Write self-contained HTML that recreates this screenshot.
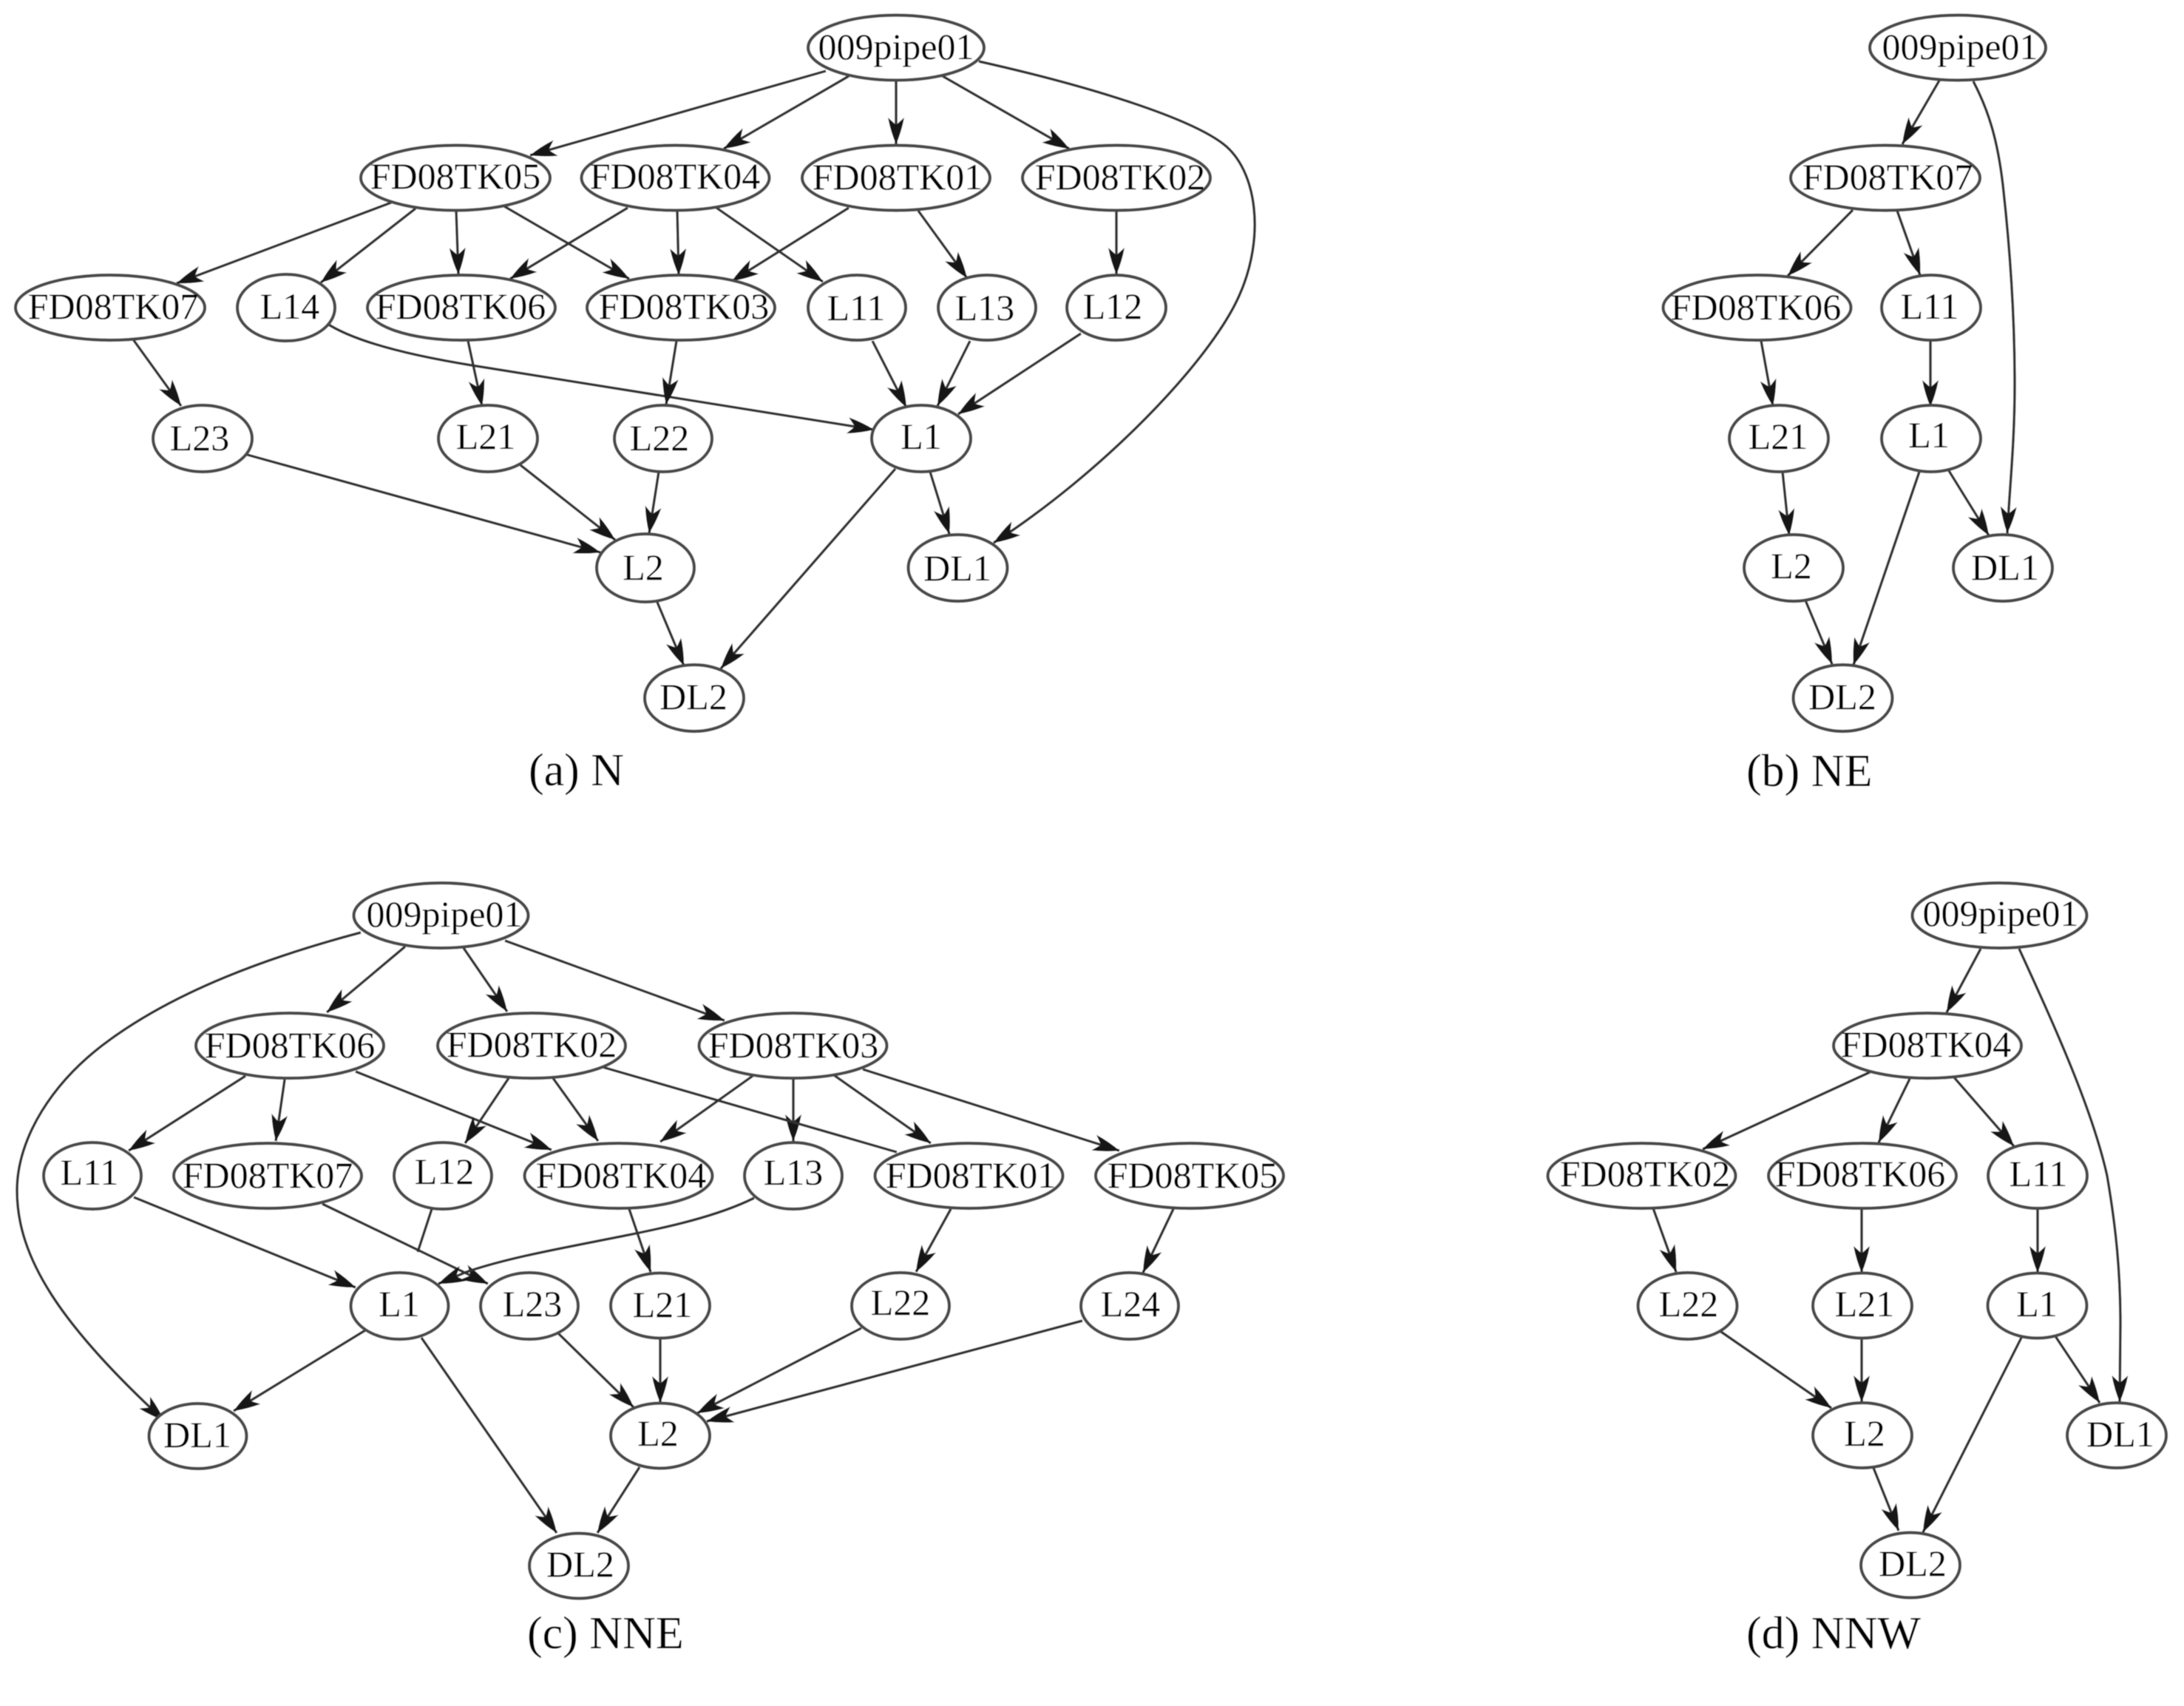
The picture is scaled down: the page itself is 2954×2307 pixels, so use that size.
<!DOCTYPE html>
<html><head><meta charset="utf-8"><title>Diagram</title>
<style>
html,body{margin:0;padding:0;background:#fff}
svg{display:block}
.e path{fill:none;stroke:#333;stroke-width:3.5;marker-end:url(#a)}
.n path{fill:none;stroke:#333;stroke-width:3.5}
ellipse{fill:#fff;stroke:#4a4a4a;stroke-width:4.2}
text{font-family:"Liberation Serif",serif;fill:#000;font-size:50px;text-anchor:middle}
text.c{font-size:62px;text-anchor:start}
</style></head><body>
<svg width="2954" height="2307" viewBox="0 0 2954 2307" xmlns="http://www.w3.org/2000/svg">
<defs>
<marker id="a" markerUnits="userSpaceOnUse" markerWidth="38" markerHeight="22" refX="36" refY="11" orient="auto"><path d="M0 0 Q20 4 36 11 Q20 18 0 22 L10 11 Z" fill="#171717"/></marker>
<filter id="s" x="0" y="0" width="100%" height="100%"><feGaussianBlur stdDeviation="0.4"/></filter>
</defs>
<g filter="url(#s)">
<rect width="2954" height="2307" fill="#fff"/>
<!-- (a) edges -->
<g class="e">
<path d="M1117 96L717 210"/>
<path d="M1148 103L979 201"/>
<path d="M1212 110L1212 195"/>
<path d="M1275 103L1446 201"/>
<path d="M1324 83C1480 118 1610 160 1655 195C1700 230 1712 320 1676 400C1636 490 1490 640 1344 734"/>
<path d="M529 274L239 383"/>
<path d="M562 282L434 382"/>
<path d="M617 285L620 371"/>
<path d="M682 279L851 377"/>
<path d="M849 281L690 377"/>
<path d="M916 285L918 372"/>
<path d="M969 281L1113 381"/>
<path d="M1148 281L990 380"/>
<path d="M1242 285L1308 376"/>
<path d="M1510 285L1510 371"/>
<path d="M180 459L245 549"/>
<path d="M440 436Q490 470 638 494L1182 581"/>
<path d="M633 461L652 549"/>
<path d="M915 461L901 547"/>
<path d="M1180 461L1226 551"/>
<path d="M1312 461L1268 549"/>
<path d="M1462 451L1296 560"/>
<path d="M331 614L812 747"/>
<path d="M704 629L832 730"/>
<path d="M891 638L878 721"/>
<path d="M1211 634L975 904"/>
<path d="M1258 638L1284 722"/>
<path d="M888 812L925 900"/>
</g>
<!-- (b) edges -->
<g class="e">
<path d="M2623 109L2573 195"/>
<path d="M2669 110C2690 150 2702 190 2709 250C2718 330 2725 420 2725 520C2725 600 2718 660 2715 721"/>
<path d="M2506 284L2418 373"/>
<path d="M2566 285L2597 372"/>
<path d="M2382 461L2398 549"/>
<path d="M2611 461L2611 550"/>
<path d="M2411 638L2420 724"/>
<path d="M2596 638L2507 899"/>
<path d="M2635 635L2690 724"/>
<path d="M2442 812L2478 898"/>
</g>
<!-- (c) edges -->
<g class="e">
<path d="M488 1261C360 1295 240 1340 150 1405C70 1462 23 1540 23 1610C23 1700 80 1790 222 1921"/>
<path d="M548 1280L442 1369"/>
<path d="M627 1282L686 1368"/>
<path d="M683 1272L980 1380"/>
<path d="M332 1455L174 1556"/>
<path d="M385 1460L373 1543"/>
<path d="M481 1449L746 1555"/>
<path d="M688 1458L629 1546"/>
<path d="M748 1458L809 1543"/>
<path d="M1018 1455L893 1544"/>
<path d="M1073 1458L1073 1543"/>
<path d="M1128 1454L1259 1546"/>
<path d="M1167 1446L1514 1556"/>
<path d="M181 1619L481 1741"/>
<path d="M436 1628L660 1736"/>
<path d="M1020 1620C970 1645 900 1660 850 1670C760 1688 690 1700 631 1720L593 1736"/>
<path d="M851 1635L880 1720"/>
<path d="M1286 1635L1239 1720"/>
<path d="M1587 1635L1546 1721"/>
<path d="M494 1799L316 1908"/>
<path d="M570 1809L753 2073"/>
<path d="M754 1802L857 1903"/>
<path d="M893 1809L893 1897"/>
<path d="M1165 1796L943 1911"/>
<path d="M1464 1786L956 1922"/>
<path d="M865 1984L808 2073"/>
</g>
<g class="n">
<path d="M815 1443L1213 1558"/>
<path d="M584 1635L565 1693"/>
</g>
<!-- (d) edges -->
<g class="e">
<path d="M2679 1283L2633 1369"/>
<path d="M2731 1283C2780 1390 2830 1500 2850 1590C2862 1660 2868 1720 2868 1790L2867 1896"/>
<path d="M2529 1450L2303 1554"/>
<path d="M2583 1459L2541 1545"/>
<path d="M2643 1457L2724 1550"/>
<path d="M2236 1634L2267 1720"/>
<path d="M2518 1635L2518 1721"/>
<path d="M2756 1635L2756 1721"/>
<path d="M2325 1799L2477 1904"/>
<path d="M2518 1810L2518 1896"/>
<path d="M2734 1809L2601 2072"/>
<path d="M2780 1807L2840 1897"/>
<path d="M2534 1985L2568 2070"/>
</g>

<!-- (a) nodes -->
<ellipse cx="1212" cy="64.5" rx="119" ry="44"/><text x="1212" y="80">009pipe01</text>
<ellipse cx="616" cy="240.5" rx="128" ry="44"/><text x="616" y="255">FD08TK05</text>
<ellipse cx="913.5" cy="240.5" rx="127" ry="44"/><text x="913" y="255">FD08TK04</text>
<ellipse cx="1212" cy="240.5" rx="127" ry="44"/><text x="1214" y="256">FD08TK01</text>
<ellipse cx="1510" cy="240.5" rx="127" ry="44"/><text x="1515" y="256">FD08TK02</text>
<ellipse cx="149" cy="416" rx="128" ry="44"/><text x="153" y="431">FD08TK07</text>
<ellipse cx="387" cy="416" rx="66" ry="45"/><text x="392" y="431">L14</text>
<ellipse cx="624" cy="416" rx="127" ry="44"/><text x="623" y="431">FD08TK06</text>
<ellipse cx="921" cy="416" rx="127" ry="44"/><text x="925" y="431">FD08TK03</text>
<ellipse cx="1159" cy="416" rx="66" ry="44"/><text x="1158" y="433">L11</text>
<ellipse cx="1335" cy="416" rx="66" ry="44"/><text x="1332" y="433">L13</text>
<ellipse cx="1510" cy="416" rx="67" ry="44"/><text x="1505" y="431">L12</text>
<ellipse cx="274" cy="593" rx="67" ry="45"/><text x="270" y="609">L23</text>
<ellipse cx="660" cy="593" rx="67" ry="45"/><text x="657" y="607">L21</text>
<ellipse cx="897" cy="593" rx="66" ry="45"/><text x="892" y="609">L22</text>
<ellipse cx="1246" cy="593" rx="67" ry="45"/><text x="1246" y="607">L1</text>
<ellipse cx="873" cy="768" rx="66" ry="46"/><text x="870" y="784">L2</text>
<ellipse cx="1295.5" cy="768" rx="67" ry="45"/><text x="1295" y="785">DL1</text>
<ellipse cx="939" cy="944" rx="67" ry="45"/><text x="938" y="959">DL2</text>
<text class="c" x="715" y="1062">(a) N</text>

<!-- (b) nodes -->
<ellipse cx="2648" cy="64.5" rx="119" ry="44"/><text x="2651" y="80">009pipe01</text>
<ellipse cx="2550" cy="240.5" rx="128" ry="44"/><text x="2553" y="256">FD08TK07</text>
<ellipse cx="2376.5" cy="416" rx="127" ry="44"/><text x="2375" y="432">FD08TK06</text>
<ellipse cx="2612" cy="416" rx="67" ry="44"/><text x="2610" y="431">L11</text>
<ellipse cx="2406" cy="593" rx="67" ry="45"/><text x="2405" y="607">L21</text>
<ellipse cx="2612" cy="593" rx="67" ry="45"/><text x="2609" y="605">L1</text>
<ellipse cx="2426" cy="768" rx="67" ry="45"/><text x="2423" y="782">L2</text>
<ellipse cx="2709" cy="768" rx="67" ry="45"/><text x="2712" y="784">DL1</text>
<ellipse cx="2492.5" cy="944" rx="67" ry="45"/><text x="2492" y="959">DL2</text>
<text class="c" x="2362" y="1063">(b) NE</text>

<!-- (c) nodes -->
<ellipse cx="596.5" cy="1238" rx="118" ry="44"/><text x="601" y="1253">009pipe01</text>
<ellipse cx="392" cy="1414" rx="127" ry="44"/><text x="392" y="1430">FD08TK06</text>
<ellipse cx="719" cy="1414" rx="127" ry="44"/><text x="719" y="1429">FD08TK02</text>
<ellipse cx="1072.5" cy="1414" rx="127" ry="44"/><text x="1073" y="1430">FD08TK03</text>
<ellipse cx="125" cy="1590" rx="66" ry="45"/><text x="121" y="1602">L11</text>
<ellipse cx="362" cy="1590" rx="127" ry="44"/><text x="362" y="1606">FD08TK07</text>
<ellipse cx="599" cy="1590" rx="66" ry="45"/><text x="601" y="1601">L12</text>
<ellipse cx="836.5" cy="1590" rx="127" ry="44"/><text x="840" y="1606">FD08TK04</text>
<ellipse cx="1073" cy="1590" rx="66" ry="45"/><text x="1073" y="1602">L13</text>
<ellipse cx="1310.5" cy="1590" rx="127" ry="44"/><text x="1313" y="1606">FD08TK01</text>
<ellipse cx="1609" cy="1590" rx="127" ry="44"/><text x="1613" y="1606">FD08TK05</text>
<ellipse cx="540.5" cy="1766" rx="66" ry="45"/><text x="540" y="1780">L1</text>
<ellipse cx="716" cy="1766" rx="66" ry="45"/><text x="720" y="1780">L23</text>
<ellipse cx="893" cy="1765.5" rx="67" ry="44"/><text x="896" y="1781">L21</text>
<ellipse cx="1218" cy="1766" rx="66" ry="45"/><text x="1218" y="1778">L22</text>
<ellipse cx="1528" cy="1766" rx="66" ry="45"/><text x="1529" y="1780">L24</text>
<ellipse cx="893" cy="1941.5" rx="67" ry="44"/><text x="890" y="1955">L2</text>
<ellipse cx="267.5" cy="1942" rx="66" ry="44"/><text x="267" y="1957">DL1</text>
<ellipse cx="783" cy="2117.5" rx="67" ry="44"/><text x="785" y="2132">DL2</text>
<text class="c" x="713" y="2229">(c) NNE</text>

<!-- (d) nodes -->
<ellipse cx="2704.5" cy="1238" rx="118" ry="44"/><text x="2706" y="1252">009pipe01</text>
<ellipse cx="2607" cy="1414" rx="127" ry="44"/><text x="2605" y="1429">FD08TK04</text>
<ellipse cx="2220.5" cy="1590" rx="127" ry="44"/><text x="2225" y="1604">FD08TK02</text>
<ellipse cx="2519" cy="1590" rx="127" ry="44"/><text x="2516" y="1604">FD08TK06</text>
<ellipse cx="2756" cy="1590" rx="67" ry="44"/><text x="2757" y="1604">L11</text>
<ellipse cx="2282.5" cy="1766" rx="67" ry="45"/><text x="2284" y="1780">L22</text>
<ellipse cx="2519" cy="1765.5" rx="67" ry="44"/><text x="2522" y="1780">L21</text>
<ellipse cx="2755.5" cy="1765.5" rx="67" ry="44"/><text x="2755" y="1780">L1</text>
<ellipse cx="2519" cy="1941" rx="67" ry="44"/><text x="2522" y="1955">L2</text>
<ellipse cx="2863" cy="1941" rx="67" ry="44"/><text x="2868" y="1956">DL1</text>
<ellipse cx="2584" cy="2116.5" rx="67" ry="44"/><text x="2587" y="2131">DL2</text>
<text class="c" x="2362" y="2229">(d) NNW</text>
</g>
</svg>
</body></html>
